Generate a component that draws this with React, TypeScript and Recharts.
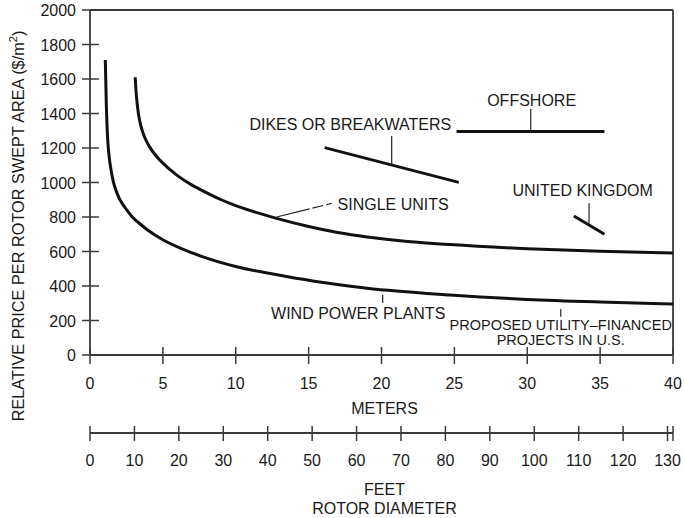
import { ComposedChart, Line, XAxis, YAxis, ReferenceLine, ReferenceDot } from "recharts";

// meters (rotor diameter) -> relative price ($/m^2)
const windPlantsMeters = [1.05, 1.12, 1.2, 1.3, 1.45, 1.6, 1.8, 2, 2.4, 2.86, 3.5, 4, 5, 6.4, 7.55, 10, 13.3, 16, 19, 24.7, 30, 35, 40];
const windPlantsPrice = [1710, 1450, 1270, 1160, 1070, 1005, 950, 910, 855, 805, 755, 722, 668, 612, 575, 513, 458, 420, 387, 348, 322, 307, 296];

const singleUnitsMeters = [3.1, 3.15, 3.22, 3.32, 3.5, 3.75, 4.1, 4.5, 5, 6, 7, 7.55, 9, 10, 12.8, 15, 17, 19, 22, 24.7, 30, 35, 40];
const singleUnitsPrice = [1610, 1540, 1470, 1400, 1325, 1262, 1205, 1158, 1112, 1040, 985, 960, 900, 866, 792, 745, 710, 684, 657, 640, 616, 601, 591];

const dikesMeters = [16.1, 25.3];
const dikesPrice = [1202, 1001];
const offshoreMeters = [25.15, 35.3];
const offshorePrice = [1295, 1295];
const ukMeters = [33.2, 35.3];
const ukPrice = [806, 700];

const meterTicks = [0, 5, 10, 15, 20, 25, 30, 35, 40];
const feetTicks = [0, 10, 20, 30, 40, 50, 60, 70, 80, 90, 100, 110, 120, 130];
const priceTicks = [0, 200, 400, 600, 800, 1000, 1200, 1400, 1600, 1800, 2000];
const FEET_PER_METER = 1 / 0.3048;
const feetMax = 40 * FEET_PER_METER;

const toPoints = (xs: number[], ys: number[]) => xs.map((m, i) => ({ m, price: ys[i] }));

const windPlants = toPoints(windPlantsMeters, windPlantsPrice);
const singleUnits = toPoints(singleUnitsMeters, singleUnitsPrice);
const dikes = toPoints(dikesMeters, dikesPrice);
const offshore = toPoints(offshoreMeters, offshorePrice);
const uk = toPoints(ukMeters, ukPrice);
// binds the feet axis to a (blank) series so it gets its ticks
const feetScale = [...feetTicks, feetMax].map((ft) => ({ ft }));

const FONT = '"Liberation Sans", Arial, sans-serif';
const INK = "#1a1a1a";
const AXIS = "#3a3a3a";

// [label lines, x (m), y (price), font size]
const annotations: [string[], number, number, number][] = [
  [["DIKES OR BREAKWATERS"], 17.86, 1339, 16],
  [["OFFSHORE"], 30.3, 1478, 16],
  [["UNITED KINGDOM"], 33.8, 957, 16],
  [["SINGLE UNITS"], 20.8, 875, 16],
  [["WIND POWER PLANTS"], 18.4, 243, 16],
  [["PROPOSED UTILITY\u2013FINANCED", "PROJECTS IN U.S."], 32.3, 130, 14.5],
];

// leader lines: [x1, y1, x2, y2, dashed]
const leaders: [number, number, number, number, boolean][] = [
  [20.7, 1105, 20.7, 1270, false],
  [30.24, 1295, 30.24, 1426, false],
  [34.24, 765, 34.24, 880, false],
  [12.8, 800, 16.58, 879, true],
  [20.08, 301, 20.08, 348, false],
  [32.3, 222, 32.3, 267, false],
];

function BottomTick(props: any) {
  const { x, y, payload, half, labelDy, hideLabel } = props;
  const hidden = hideLabel && hideLabel(payload.value);
  return (
    <g>
      <line x1={x} x2={x} y1={y - half} y2={y + half + 1} stroke={AXIS} strokeWidth={1.5} />
      {!hidden && (
        <text x={x} y={y + labelDy} textAnchor="middle" fontSize={16} fontFamily={FONT} fill={INK}>
          {payload.value}
        </text>
      )}
    </g>
  );
}

function LeftTick(props: any) {
  const { x, y, payload } = props;
  return (
    <g>
      <line x1={x - 8} x2={x + 9} y1={y} y2={y} stroke={AXIS} strokeWidth={1.5} />
      <text x={x - 14} y={y + 6} textAnchor="end" fontSize={16} fontFamily={FONT} fill={INK}>
        {payload.value}
      </text>
    </g>
  );
}

function noteLabel(lines: string[], size: number) {
  return ({ viewBox }: any) => {
    const cx = viewBox.x + (viewBox.width || 0) / 2;
    const cy = viewBox.y + (viewBox.height || 0) / 2;
    const top = cy - ((lines.length - 1) * 15) / 2 + size * 0.36;
    return (
      <text x={cx} y={top} textAnchor="middle" fontSize={size} fontFamily={FONT} fill={INK}>
        {lines.map((ln, i) => (
          <tspan key={i} x={cx} dy={i === 0 ? 0 : 15}>
            {ln}
          </tspan>
        ))}
      </text>
    );
  };
}

export default function App() {
  return (
    <div style={{ width: 685, height: 518, background: "#fff" }}>
      <style>{"body{margin:0}"}</style>
      <ComposedChart width={685} height={518} margin={{ top: 10, right: 12, left: 0, bottom: 0 }}>
        <XAxis
          xAxisId="a"
          dataKey="m"
          type="number"
          domain={[0, 40]}
          ticks={meterTicks}
          height={78}
          tickSize={0}
          tickMargin={0}
          tickLine={false}
          axisLine={{ stroke: AXIS, strokeWidth: 1.8 }}
          tick={<BottomTick half={8} labelDy={34} />}
          interval={0}
          label={({ viewBox }: any) => (
            <text x={viewBox.x + viewBox.width / 2 + 3} y={viewBox.y + 59} textAnchor="middle" fontSize={16} fontFamily={FONT} fill={INK}>
              METERS
            </text>
          )}
        />
        <XAxis
          xAxisId="b"
          dataKey="ft"
          type="number"
          domain={[0, feetMax]}
          ticks={[...feetTicks, feetMax]}
          height={85}
          tickSize={0}
          tickMargin={0}
          tickLine={false}
          axisLine={{ stroke: AXIS, strokeWidth: 1.8 }}
          tick={<BottomTick half={7} labelDy={33} hideLabel={(v: number) => v > 130} />}
          interval={0}
          label={({ viewBox }: any) => (
            <g>
              <text x={viewBox.x + viewBox.width / 2 + 3} y={viewBox.y + 62} textAnchor="middle" fontSize={16} fontFamily={FONT} fill={INK}>
                FEET
              </text>
              <text x={viewBox.x + viewBox.width / 2 + 3} y={viewBox.y + 81} textAnchor="middle" fontSize={16} fontFamily={FONT} fill={INK}>
                ROTOR DIAMETER
              </text>
            </g>
          )}
        />
        <YAxis
          type="number"
          domain={[0, 2000]}
          ticks={priceTicks}
          width={90}
          tickSize={0}
          tickMargin={0}
          tickLine={false}
          interval={0}
          axisLine={{ stroke: AXIS, strokeWidth: 1.8 }}
          tick={<LeftTick />}
          label={({ viewBox }: any) => {
            const cx = 24;
            const cy = viewBox.y + 216;
            return (
              <text x={cx} y={cy} transform={`rotate(-90, ${cx}, ${cy})`} textAnchor="middle" fontSize={16.3} fontFamily={FONT} fill={INK}>
                RELATIVE PRICE PER ROTOR SWEPT AREA ($/m
                <tspan dy={-7} fontSize={11}>2</tspan>
                <tspan dy={7}>)</tspan>
              </text>
            );
          }}
        />
        <ReferenceLine xAxisId="a" y={2000} stroke={AXIS} strokeWidth={1.8} />
        <ReferenceLine xAxisId="a" x={40} stroke={AXIS} strokeWidth={1.8} />

        <Line xAxisId="b" data={feetScale} dataKey="price" stroke="none" dot={false} activeDot={false} isAnimationActive={false} legendType="none" />

        <Line xAxisId="a" data={windPlants} dataKey="price" type="monotone" stroke="#111" strokeWidth={3} dot={false} activeDot={false} isAnimationActive={false} />
        <Line xAxisId="a" data={singleUnits} dataKey="price" type="monotone" stroke="#111" strokeWidth={3} dot={false} activeDot={false} isAnimationActive={false} />
        <Line xAxisId="a" data={dikes} dataKey="price" type="linear" stroke="#111" strokeWidth={3} dot={false} activeDot={false} isAnimationActive={false} />
        <Line xAxisId="a" data={offshore} dataKey="price" type="linear" stroke="#111" strokeWidth={3} dot={false} activeDot={false} isAnimationActive={false} />
        <Line xAxisId="a" data={uk} dataKey="price" type="linear" stroke="#111" strokeWidth={3} dot={false} activeDot={false} isAnimationActive={false} />

        {leaders.map(([x1, y1, x2, y2, dashed], i) => (
          <ReferenceLine
            key={`lead-${i}`}
            xAxisId="a"
            segment={[{ x: x1, y: y1 }, { x: x2, y: y2 }]}
            stroke="#222"
            strokeWidth={1.2}
            strokeDasharray={dashed ? "34 3 11 3" : undefined}
          />
        ))}
        {annotations.map(([lines, x, y, size]) => (
          <ReferenceDot
            key={lines[0]}
            xAxisId="a"
            x={x}
            y={y}
            r={0}
            fill="none"
            stroke="none"
            label={noteLabel(lines, size)}
          />
        ))}
      </ComposedChart>
    </div>
  );
}
